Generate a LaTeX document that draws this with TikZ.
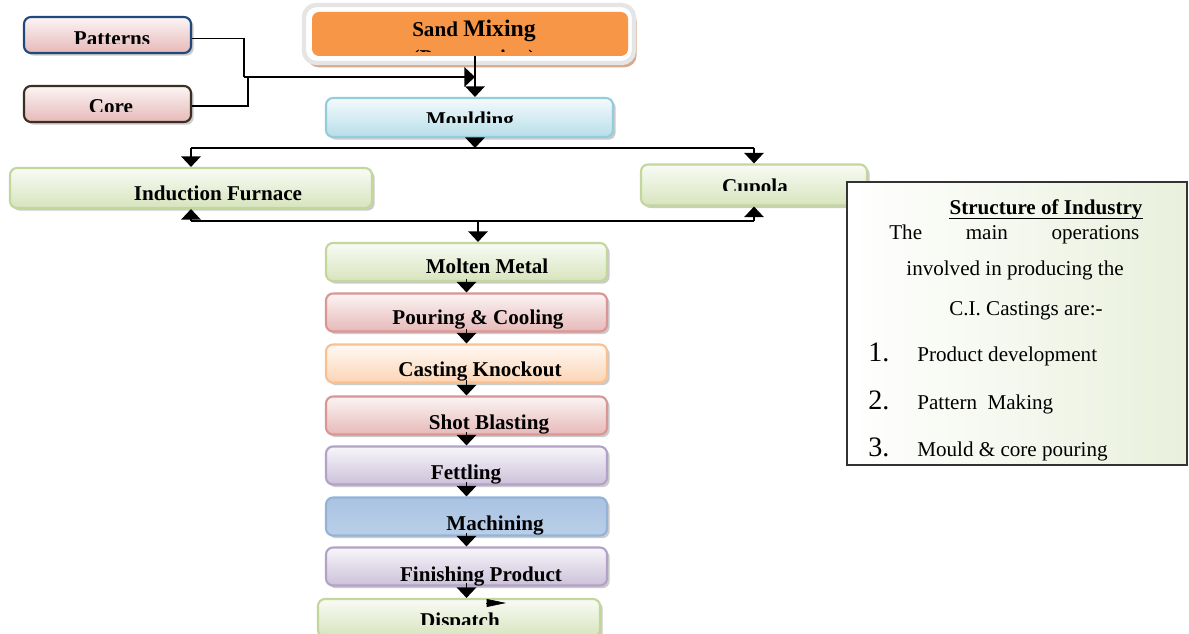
\documentclass[tikz,border=0pt]{standalone}
\usepackage{fontspec}
\setmainfont{Liberation Serif}
\usetikzlibrary{arrows.meta,shadows}

\definecolor{navyline}{HTML}{1F497D}
\definecolor{coreline}{HTML}{3B2E22}
\definecolor{pinkfill}{HTML}{E6B9B8}
\definecolor{pinkline}{HTML}{D99694}
\definecolor{greenfill}{HTML}{D7E4BD}
\definecolor{greenline}{HTML}{C3D69B}
\definecolor{bluefill}{HTML}{B7DEE8}
\definecolor{blueline}{HTML}{93CDDD}
\definecolor{peachfill}{HTML}{FCD5B5}
\definecolor{peachline}{HTML}{FAC090}
\definecolor{lilacfill}{HTML}{CCC1DA}
\definecolor{lilacline}{HTML}{B3A2C7}
\definecolor{steelfill}{HTML}{A9C3E2}
\definecolor{steelline}{HTML}{95B3D7}
\definecolor{sandorange}{HTML}{F79646}
\definecolor{sandshadow}{HTML}{D6A98D}
\definecolor{notefill}{HTML}{E9F0DC}

\newdimen\px
\px=0.02cm

% text cut off at the bottom of its box
\newcommand{\cutlabel}[4]{%
  \begin{scope}
    \clip (0,0) rectangle (1189,#2);
    \node[txt] (#1) at (#3) {#4};
  \end{scope}}

\tikzset{
  box/.style={rectangle, rounded corners=4pt, line width=1.2pt, inner sep=0pt,
    drop shadow={shadow xshift=1.5pt, shadow yshift=-1.5pt, fill=black!40, opacity=.5}},
  stage/.style={box, minimum width=281\px, minimum height=38\px},
  shadebox/.style 2 args={draw=#2, top color=#1!15!white, bottom color=#1},
  txt/.style={font=\fontsize{12}{14}\selectfont\bfseries, inner sep=0pt, anchor=base},
  note/.style={font=\fontsize{12}{14}\selectfont, inner sep=0pt, anchor=base},
  num/.style={font=\fontsize{16}{18}\selectfont, inner sep=0pt, anchor=base west},
  link/.style={line width=1.1pt},
  arr/.style={link, -{Triangle[width=11pt,length=6pt]}},
}

\begin{document}
\begin{tikzpicture}[x=0.02cm, y=-0.02cm]
    \path[use as bounding box, fill=white] (0,0) rectangle (1189,634);

    % inputs
    \node[box, shadebox={pinkfill}{navyline}, minimum width=167\px, minimum height=36\px] (patterns) at (107.5,35) {};
    \node[box, shadebox={pinkfill}{coreline}, minimum width=167\px, minimum height=36\px] (core) at (107.5,104) {};
    \cutlabel{patterns-t}{44}{112,46}{Patterns}
    \cutlabel{core-t}{112}{111,114}{Core}

    % sand mixing
    \node[rectangle, rounded corners=7pt, draw=gray!20, line width=2.5pt, fill=white,
        minimum width=330\px, minimum height=58\px,
        drop shadow={shadow xshift=1.5pt, shadow yshift=-2.5pt, fill=sandshadow, opacity=1}] (sandbg) at (469,34) {};
    \node[rectangle, rounded corners=4pt, fill=sandorange, minimum width=316\px, minimum height=44\px] (sand) at (470,34) {};
    \node[txt] (sand-t) at (474,37) {Sand {\fontsize{13.5}{15}\selectfont Mixing}};
    \cutlabel{sand-t2}{52}{474,65}{(Preparation)}

    \node[box, shadebox={bluefill}{blueline}, minimum width=287\px, minimum height=39\px] (moulding) at (469.5,117.5) {};
    \cutlabel{moulding-t}{123}{470,127}{Moulding}

    % furnaces
    \node[box, shadebox={greenfill}{greenline}, minimum width=362\px, minimum height=40\px] (induction) at (191,188) {};
    \node[txt] (induction-t) at (218,201) {Induction Furnace};
    \node[box, shadebox={greenfill}{greenline}, minimum width=226\px, minimum height=41\px] (cupola) at (754,185) {};
    \cutlabel{cupola-t}{191}{755,194}{Cupola}

    % process line
    \node[stage, shadebox={greenfill}{greenline}] (molten) at (466.5,262) {};
    \node[stage, shadebox={pinkfill}{pinkline}] (pouring) at (466.5,312.5) {};
    \node[stage, shadebox={peachfill}{peachline}] (knockout) at (466.5,363.5) {};
    \node[stage, shadebox={pinkfill}{pinkline}] (blasting) at (466.5,415.5) {};
    \node[stage, shadebox={lilacfill}{lilacline}] (fettling) at (466.5,465.5) {};
    \node[stage, draw=steelline, top color=steelfill, middle color=steelfill!25!white, bottom color=steelfill!80!white] (machining) at (466.5,516.5) {};
    \node[stage, shadebox={lilacfill}{lilacline}] (finishing) at (466.5,566.5) {};
    \node[stage, shadebox={greenfill}{greenline}, minimum width=282\px] (dispatch) at (459,618) {};

    \node[txt] (molten-t) at (487,274) {Molten Metal};
    \node[txt] (pouring-t) at (478,325) {Pouring \& Cooling};
    \node[txt] (knockout-t) at (480,377) {Casting Knockout};
    \node[txt] (blasting-t) at (489,429) {Shot Blasting};
    \node[txt] (fettling-t) at (466,479) {Fettling};
    \node[txt] (machining-t) at (495,530) {Machining};
    \node[txt] (finishing-t) at (481,581) {Finishing Product};
    \cutlabel{dispatch-t}{624}{460,627}{Dispatch}

    % structure note
    \node[rectangle, draw=black!80, line width=0.9pt, left color=white, right color=notefill,
        minimum width=340\px, minimum height=283\px, inner sep=0pt] (structure) at (1017,323.5) {};
    \node[txt] (structure-t) at (1046,215) {Structure of Industry};
    \draw[line width=0.7pt] ([yshift=-1.8pt]structure-t.base west) -- ([yshift=-1.8pt]structure-t.base east);
    \node[note, anchor=base west] (intro1) at (889,240) {\makebox[250\px][s]{The main operations}};
    \node[note] (intro2) at (1015,276) {involved in producing the};
    \node[note] (intro3) at (1026,316) {C.I. Castings are:-};
    \node[num] (num1) at (868,362) {1.};
    \node[num] (num2) at (868,410) {2.};
    \node[num] (num3) at (868,457) {3.};
    \node[note, anchor=base west] (item1) at (917,362) {Product development};
    \node[note, anchor=base west] (item2) at (917,410) {Pattern\ \ Making};
    \node[note, anchor=base west] (item3) at (917,457) {Mould \& core pouring};

    % connectors
    \coordinate (pj) at (244,77);
    \coordinate (cj) at (248,77);
    \coordinate (mj) at (475,77);
    \draw[link] ([yshift=-2pt]patterns.east) -| (pj);
    \draw[link] ([yshift=-1pt]core.east) -| (cj);
    \draw[arr] (pj) -- (mj);
    \draw[arr] (sand.south -| mj) -- (moulding.north -| mj);

    \coordinate (split) at (475,148);
    \draw[arr] (moulding.south -| split) -- (split);
    \draw[link] (split -| induction) -- (split -| cupola);
    \draw[arr] (split -| induction) -- (induction.north);
    \draw[arr] (split -| cupola) -- (cupola.north);

    \coordinate (merge) at (478,221);
    \draw[link] (merge -| induction) -- (merge -| cupola);
    \draw[arr] (merge -| induction) -- (induction.south);
    \draw[arr] (merge -| cupola) -- (cupola.south);
    \draw[arr] (merge) -- (molten.north -| merge);

    \foreach \a/\b in {molten/pouring, pouring/knockout, knockout/blasting,
        blasting/fettling, fettling/machining, machining/finishing}
        \draw[arr] ([yshift=2pt]\a.south) -- (\b.north);
    \draw[arr] ([yshift=2pt]finishing.south) -- (finishing.south |- dispatch.north);

    \coordinate (stray) at (486,603);
    \draw[line width=0.4pt, -{Triangle[length=11pt,width=4.5pt]}] (stray) -- ++(20,0);

\end{tikzpicture}
\end{document}
